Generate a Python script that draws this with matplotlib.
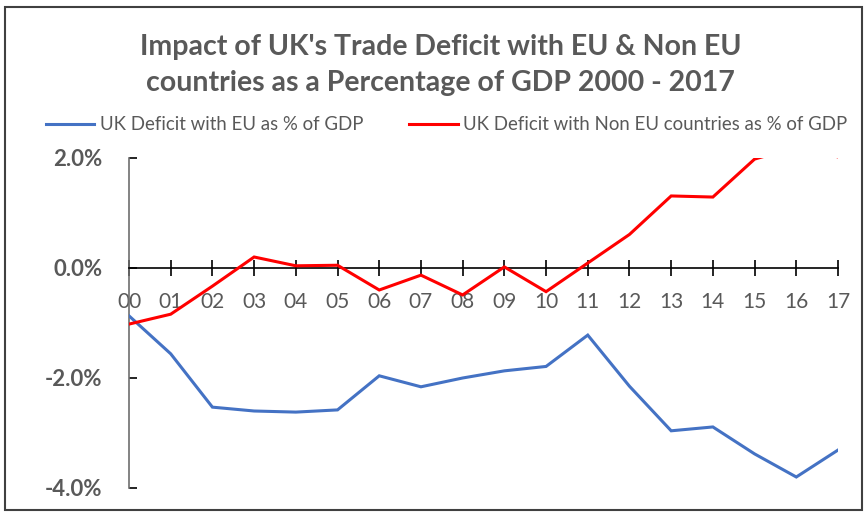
import matplotlib
matplotlib.use('Agg')
import matplotlib.pyplot as plt
from matplotlib.patches import Rectangle

# values (% of GDP)
years = ['00', '01', '02', '03', '04', '05', '06', '07', '08',
         '09', '10', '11', '12', '13', '14', '15', '16', '17']
eu_deficit = [-0.87, -1.56, -2.53, -2.60, -2.62, -2.58, -1.96, -2.16, -2.00,
              -1.87, -1.79, -1.22, -2.15, -2.96, -2.89, -3.38, -3.80, -3.31]
non_eu_deficit = [-1.02, -0.84, -0.33, 0.20, 0.04, 0.05, -0.40, -0.13, -0.49,
                  0.02, -0.43, 0.09, 0.61, 1.31, 1.29, 1.98, 2.20, 2.02]
y_ticks = [2.0, 0.0, -2.0, -4.0]

plt.rcParams['font.family'] = ['Lato', 'DejaVu Sans']
grey = '#595959'

fig = plt.figure(figsize=(8.64, 5.12), dpi=100)
ax = fig.add_axes([129 / 864, 1 - 488 / 512, (838 - 129) / 864, (488 - 158) / 512])

x = list(range(len(years)))
ax.plot(x, eu_deficit, color='#4472C4', lw=2.2, zorder=3,
        label='UK Deficit with EU as % of GDP', solid_joinstyle='miter')
ax.plot(x, non_eu_deficit, color='#FF0000', lw=2.2, zorder=3,
        label='UK Deficit with Non EU countries as % of GDP', solid_joinstyle='miter')

ax.set_xlim(0, len(years) - 1)
ax.set_ylim(-4, 2)

ax.spines['top'].set_visible(False)
ax.spines['right'].set_visible(False)
ax.spines['left'].set_color('#6e6e6e')
ax.spines['left'].set_linewidth(1.2)
ax.spines['bottom'].set_position(('data', 0))
ax.spines['bottom'].set_color('black')
ax.spines['bottom'].set_linewidth(1.2)

ax.set_xticks(x)
ax.set_xticklabels(years)
ax.tick_params(axis='x', direction='inout', length=11, width=1.2, color='black',
               labelsize=15, labelcolor=grey, pad=12)
ax.set_yticks(y_ticks)
ax.set_yticklabels([f'{v:.1f}%' for v in y_ticks], fontweight='bold')
ax.tick_params(axis='y', direction='in', length=6, width=1.2, color='black',
               labelsize=16, labelcolor=grey, pad=19)

fig.text(0.51, 1 - 47 / 512, "Impact of UK's Trade Deficit with EU & Non EU",
         ha='center', va='center', fontsize=20.5, fontweight='bold', color=grey)
fig.text(0.51, 1 - 83 / 512, "countries as a Percentage of GDP 2000 - 2017",
         ha='center', va='center', fontsize=20.5, fontweight='bold', color=grey)

fig.legend(loc='center', bbox_to_anchor=(0.517, 1 - 125 / 512), ncol=2, frameon=False,
           fontsize=13.4, labelcolor=grey, handlelength=2.6, handletextpad=0.3,
           columnspacing=2.45)

fig.patches.append(Rectangle((5 / 864, 2 / 512), 857 / 864, 503 / 512,
                             transform=fig.transFigure, fill=False,
                             edgecolor='#404040', lw=1.5))

fig.savefig('out.png', dpi=100)
